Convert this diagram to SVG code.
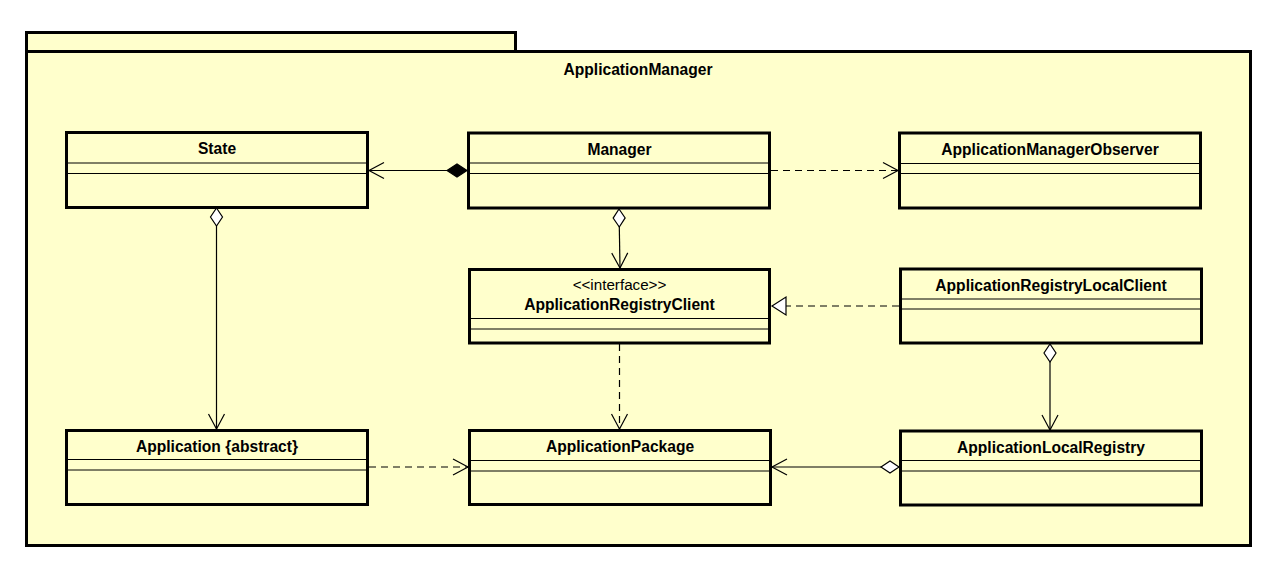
<svg xmlns="http://www.w3.org/2000/svg" width="1288" height="580" viewBox="0 0 1288 580">
<style>
.pkg{fill:#FFFFCC;stroke:#000;stroke-width:3}
.box{fill:#FFFFCC;stroke:#000;stroke-width:3}
.sep{stroke:#000;stroke-width:1}
.name{font-family:"Liberation Sans",Arial,sans-serif;font-weight:bold;font-size:15.6px;fill:#000;text-anchor:middle}
.stereo{font-family:"Liberation Sans",Arial,sans-serif;font-size:15.2px;fill:#000;text-anchor:middle}
.line{fill:none;stroke:#000;stroke-width:1.2}
.dash{fill:none;stroke:#000;stroke-width:1.2;stroke-dasharray:7,5}
.mk{stroke:#000;stroke-width:1.2;stroke-dasharray:none;stroke-linejoin:miter}
</style>
<defs>
<marker id="open" markerUnits="userSpaceOnUse" markerWidth="20" markerHeight="20" refX="0" refY="0" orient="auto" style="overflow:visible">
<path class="mk" d="M-15,-8 L0,0 L-15,8" fill="none"/>
</marker>
<marker id="tri" markerUnits="userSpaceOnUse" markerWidth="20" markerHeight="20" refX="0" refY="0" orient="auto" style="overflow:visible">
<path class="mk" d="M0,0 L-14,-9 L-14,9 Z" fill="#FFFFFF"/>
</marker>
<marker id="dia" markerUnits="userSpaceOnUse" markerWidth="20" markerHeight="20" refX="0" refY="0" orient="auto" style="overflow:visible">
<path class="mk" d="M0,0 L9,-6 L18,0 L9,6 Z" fill="#FFFFFF"/>
</marker>
<marker id="fdia" markerUnits="userSpaceOnUse" markerWidth="20" markerHeight="20" refX="0" refY="0" orient="auto" style="overflow:visible">
<path class="mk" d="M0,0 L10,-6.5 L20,0 L10,6.5 Z" fill="#000000"/>
</marker>
</defs>
<rect width="1288" height="580" fill="#FFFFFF"/>
<g id="package">
<rect class="pkg" x="26.5" y="32.5" width="489" height="19"/>
<rect class="pkg" x="26.5" y="51.5" width="1224" height="494"/>
<text class="name" x="638" y="75">ApplicationManager</text>
</g>
<g id="State">
<rect class="box" x="66.5" y="132.5" width="301" height="75"/>
<line class="sep" x1="66.5" y1="163" x2="367.5" y2="163"/>
<line class="sep" x1="66.5" y1="173.5" x2="367.5" y2="173.5"/>
<text class="name" x="217" y="154">State</text>
</g>
<g id="Manager">
<rect class="box" x="468.5" y="133" width="301" height="75"/>
<line class="sep" x1="468.5" y1="163" x2="769.5" y2="163"/>
<line class="sep" x1="468.5" y1="173.5" x2="769.5" y2="173.5"/>
<text class="name" x="619.5" y="155">Manager</text>
</g>
<g id="ApplicationManagerObserver">
<rect class="box" x="899.5" y="133" width="301" height="75"/>
<line class="sep" x1="899.5" y1="163.5" x2="1200.5" y2="163.5"/>
<line class="sep" x1="899.5" y1="173.5" x2="1200.5" y2="173.5"/>
<text class="name" x="1050" y="155">ApplicationManagerObserver</text>
</g>
<g id="ApplicationRegistryClient">
<rect class="box" x="469.5" y="269.5" width="300" height="73.5"/>
<line class="sep" x1="469.5" y1="318.5" x2="769.5" y2="318.5"/>
<line class="sep" x1="469.5" y1="329" x2="769.5" y2="329"/>
<text class="stereo" x="619.5" y="290">&lt;&lt;interface&gt;&gt;</text>
<text class="name" x="619.5" y="309.5">ApplicationRegistryClient</text>
</g>
<g id="ApplicationRegistryLocalClient">
<rect class="box" x="900.5" y="269" width="301" height="74"/>
<line class="sep" x1="900.5" y1="299" x2="1201.5" y2="299"/>
<line class="sep" x1="900.5" y1="309" x2="1201.5" y2="309"/>
<text class="name" x="1051" y="290.5">ApplicationRegistryLocalClient</text>
</g>
<g id="Application">
<rect class="box" x="66.5" y="430.5" width="301" height="74"/>
<line class="sep" x1="66.5" y1="459.5" x2="367.5" y2="459.5"/>
<line class="sep" x1="66.5" y1="470" x2="367.5" y2="470"/>
<text class="name" x="217" y="452">Application {abstract}</text>
</g>
<g id="ApplicationPackage">
<rect class="box" x="469.5" y="430.5" width="301" height="74"/>
<line class="sep" x1="469.5" y1="460.5" x2="770.5" y2="460.5"/>
<line class="sep" x1="469.5" y1="471" x2="770.5" y2="471"/>
<text class="name" x="620" y="452">ApplicationPackage</text>
</g>
<g id="ApplicationLocalRegistry">
<rect class="box" x="900.5" y="431" width="301" height="74"/>
<line class="sep" x1="900.5" y1="460.5" x2="1201.5" y2="460.5"/>
<line class="sep" x1="900.5" y1="471" x2="1201.5" y2="471"/>
<text class="name" x="1051" y="453">ApplicationLocalRegistry</text>
</g>
<g id="connectors">
<path class="line" d="M467,170.5 L369,170.5" marker-start="url(#fdia)" marker-end="url(#open)"/>
<path class="dash" d="M771,170.5 L898,170.5" marker-end="url(#open)"/>
<path class="line" d="M619,209 L620,268" marker-start="url(#dia)" marker-end="url(#open)"/>
<path class="dash" d="M899,306 L772,306" marker-end="url(#tri)"/>
<path class="dash" d="M619.5,344 L619.5,429" marker-end="url(#open)"/>
<path class="line" d="M216.5,208 L216.5,429" marker-start="url(#dia)" marker-end="url(#open)"/>
<path class="dash" d="M369,467 L468,467" marker-end="url(#open)"/>
<path class="line" d="M1050,344 L1050,430" marker-start="url(#dia)" marker-end="url(#open)"/>
<path class="line" d="M899,467 L772,467" marker-start="url(#dia)" marker-end="url(#open)"/>
</g>
</svg>
